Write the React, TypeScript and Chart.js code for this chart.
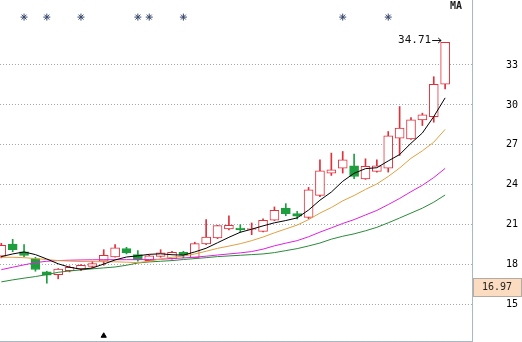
import { useEffect, useRef } from "react";
import { Chart, registerables } from "chart.js";

Chart.register(...registerables);

const days = [0, 1, 2, 3, 4, 5, 6, 7, 8, 9, 10, 11, 12, 13, 14, 15, 16, 17, 18, 19, 20, 21, 22, 23, 24, 25, 26, 27, 28, 29, 30, 31, 32, 33, 34, 35, 36, 37, 38, 39];

const opens = [18.63, 19.55, 18.95, 18.45, 17.45, 17.25, 17.55, 17.68, 17.87, 18.25, 18.58, 19.2, 18.75, 18.3, 18.62, 18.45, 18.92, 18.5, 19.55, 20.0, 20.68, 20.75, 20.65, 20.5, 21.33, 22.25, 21.83, 21.55, 23.2, 24.87, 25.25, 25.42, 24.43, 25.0, 25.25, 27.5, 27.45, 28.88, 29.12, 31.55];
const closes = [19.45, 19.12, 18.68, 17.63, 17.2, 17.67, 17.8, 17.95, 18.07, 18.7, 19.25, 18.88, 18.375, 18.65, 18.88, 18.92, 18.7, 19.58, 20.07, 20.93, 20.95, 20.63, 20.7, 21.33, 22.07, 21.83, 21.63, 23.62, 25.05, 25.12, 25.88, 24.62, 25.38, 25.42, 27.67, 28.25, 28.88, 29.25, 31.55, 34.71];
const highs = [19.6, 19.9, 19.5, 18.55, 17.5, 17.7, 17.9, 18.0, 18.25, 19.12, 19.5, 19.3, 19.05, 18.7, 19.12, 19.0, 19.0, 19.68, 21.38, 20.95, 21.67, 21.0, 21.13, 21.43, 22.33, 22.58, 22.0, 23.8, 25.88, 26.38, 26.5, 26.3, 25.95, 25.88, 28.0, 29.88, 29.05, 29.38, 32.12, 34.71];
const lows = [18.5, 18.97, 18.6, 17.5, 16.6, 16.93, 17.45, 17.55, 17.75, 17.95, 18.55, 18.8, 18.25, 18.25, 18.55, 18.4, 18.5, 18.45, 19.5, 19.95, 20.6, 20.42, 20.25, 20.45, 21.3, 21.67, 21.43, 21.45, 23.1, 24.7, 24.88, 24.45, 24.4, 24.95, 24.95, 26.2, 27.4, 28.45, 28.7, 31.2];

const ma5 = [18.6, 18.8, 18.95, 18.75, 18.42, 18.06, 17.8, 17.65, 17.74, 18.04, 18.35, 18.57, 18.66, 18.77, 18.81, 18.74, 18.71, 18.95, 19.23, 19.64, 20.05, 20.43, 20.66, 20.91, 21.14, 21.31, 21.51, 22.1, 22.84, 23.45, 24.26, 24.86, 25.21, 25.28, 25.79, 26.27, 27.12, 27.89, 29.12, 30.53];
const ma10 = [18.55, 18.55, 18.52, 18.45, 18.38, 18.3, 18.26, 18.23, 18.22, 18.22, 18.21, 18.18, 18.15, 18.25, 18.42, 18.55, 18.64, 18.8, 19.0, 19.22, 19.39, 19.57, 19.8, 20.07, 20.39, 20.68, 20.97, 21.38, 21.87, 22.29, 22.79, 23.19, 23.65, 24.06, 24.62, 25.26, 25.99, 26.55, 27.2, 28.16];
const ma20 = [17.62, 17.8, 17.98, 18.15, 18.25, 18.3, 18.33, 18.35, 18.36, 18.37, 18.37, 18.37, 18.37, 18.38, 18.4, 18.45, 18.5, 18.56, 18.63, 18.72, 18.8, 18.88, 18.98, 19.16, 19.41, 19.61, 19.8, 20.09, 20.44, 20.76, 21.09, 21.38, 21.73, 22.07, 22.51, 22.97, 23.48, 23.96, 24.54, 25.23];
const ma30 = [16.7, 16.85, 16.98, 17.1, 17.25, 17.42, 17.52, 17.6, 17.68, 17.75, 17.82, 17.95, 18.12, 18.2, 18.25, 18.3, 18.38, 18.45, 18.52, 18.6, 18.65, 18.7, 18.75, 18.8, 18.9, 19.05, 19.2, 19.4, 19.62, 19.91, 20.13, 20.31, 20.54, 20.8, 21.14, 21.5, 21.87, 22.24, 22.69, 23.23];

const starDays = [2, 4, 7, 12, 13, 16, 30, 34];
const starLevel = 36.6;
const markDays = [9];
const markLevel = 12.65;
const yTicks = [15, 18, 21, 24, 27, 30, 33];
const priceLabel = 16.97;

const RED = "#E0303C";
const GREEN = "#1E9E3E";

const overlayPlugin = {
  id: "overlay",
  afterDraw(chart: any) {
    const { ctx, chartArea, scales } = chart;
    const xs = scales.x;
    const ys = scales.y;
    ctx.save();
    // MA title
    ctx.font = 'bold 10px "DejaVu Sans Mono"';
    ctx.fillStyle = "#1a1a1a";
    ctx.textAlign = "right";
    ctx.textBaseline = "top";
    ctx.fillText("MA", chartArea.right - 10, 1);

    // highest price label with arrow
    const last = days.length - 1;
    const hx = xs.getPixelForValue(days[last]);
    const hy = Math.round(ys.getPixelForValue(highs[last]) - 2) + 0.5;
    ctx.font = '11px "DejaVu Sans Mono"';
    ctx.fillStyle = "#111";
    ctx.textAlign = "right";
    ctx.textBaseline = "middle";
    ctx.fillText(highs[last].toFixed(2), hx - 14, hy);
    ctx.strokeStyle = "#111";
    ctx.lineWidth = 1;
    ctx.beginPath();
    ctx.moveTo(hx - 13, hy);
    ctx.lineTo(hx - 4, hy);
    ctx.moveTo(hx - 7, hy - 2.5);
    ctx.lineTo(hx - 4, hy);
    ctx.lineTo(hx - 7, hy + 2.5);
    ctx.stroke();

    // price box on the axis
    const by = Math.round(ys.getPixelForValue(priceLabel));
    const bx = chartArea.right + 1;
    const bw = chart.width - bx - 1;
    ctx.fillStyle = "#FBDCC0";
    ctx.fillRect(bx, by, bw, 18);
    ctx.strokeStyle = "#B4ACA4";
    ctx.strokeRect(bx + 0.5, by + 0.5, bw, 18);
    ctx.font = '10px "DejaVu Sans Mono"';
    ctx.fillStyle = "#222";
    ctx.textAlign = "center";
    ctx.textBaseline = "middle";
    ctx.fillText(priceLabel.toFixed(2), bx + bw / 2, by + 9.5);
    ctx.restore();
  },
};

export default function App() {
  const ref = useRef<HTMLCanvasElement | null>(null);

  useEffect(() => {
    if (!ref.current) return;
    const up = days.map((d) => closes[d] >= opens[d]);
    const line = (data: number[], color: string, order: number) => ({
      type: "line" as const,
      data: days.map((d) => ({ x: d, y: data[d] })),
      borderColor: color,
      borderWidth: 1,
      pointRadius: 0,
      tension: 0,
      fill: false,
      order,
    });
    const chart = new Chart(ref.current, {
      type: "bar",
      data: {
        datasets: [
          {
            type: "scatter" as const,
            data: starDays.map((d) => ({ x: d, y: starLevel })),
            pointStyle: "star",
            pointRadius: 3.5,
            borderColor: "#34466A",
            backgroundColor: "#34466A",
            borderWidth: 1,
            order: 0,
          } as any,
          {
            type: "scatter" as const,
            data: markDays.map((d) => ({ x: d, y: markLevel })),
            pointStyle: "triangle",
            pointRadius: 3,
            borderColor: "#000",
            backgroundColor: "#000",
            borderWidth: 1,
            order: 0,
          } as any,
          line(ma5, "#000000", 1),
          line(ma10, "#E0A040", 1),
          line(ma20, "#E020E0", 1),
          line(ma30, "#2A8A3A", 1),
          {
            type: "bar" as const,
            data: days.map((d) => ({ x: d, y: [opens[d], closes[d]] })),
            backgroundColor: days.map((d) => (up[d] ? "#FFFFFF" : GREEN)),
            borderColor: days.map((d) => (up[d] ? RED : GREEN)),
            borderWidth: 1,
            borderSkipped: false,
            barThickness: 9,
            grouped: false,
            order: 2,
          } as any,
          {
            type: "bar" as const,
            data: days.map((d) => ({ x: d, y: [lows[d], highs[d]] })),
            backgroundColor: days.map((d) => (up[d] ? RED : GREEN)),
            borderWidth: 0,
            barThickness: 1,
            grouped: false,
            order: 3,
          } as any,
        ],
      },
      options: {
        responsive: false,
        animation: false,
        layout: { autoPadding: false, padding: { top: 0, left: 0, right: 0, bottom: 1 } },
        plugins: { legend: { display: false }, tooltip: { enabled: false } },
        scales: {
          x: {
            type: "linear",
            offset: false,
            min: -0.114,
            max: 41.36,
            grid: { display: false, offset: false },
            ticks: { display: false },
            border: { display: true, color: "#A8B8C8", width: 1 },
            afterFit: (s: any) => {
              s.paddingLeft = 0;
              s.paddingRight = 0;
              s.height = 0;
            },
          },
          y: {
            position: "right",
            min: 12.257,
            max: 37.885,
            afterFit: (s: any) => {
              s.width = 50;
              s.paddingTop = 0;
              s.paddingBottom = 0;
            },
            afterBuildTicks: (s: any) => {
              s.ticks = yTicks.map((v) => ({ value: v }));
            },
            grid: { color: "#A0A8B0", drawTicks: false, lineWidth: 1 },
            border: { display: true, color: "#A8B8C8", width: 1, dash: [1, 2] },
            ticks: {
              crossAlign: "near",
              padding: 34,
              color: "#000",
              font: { family: "DejaVu Sans Mono", size: 10 },
              callback: (v: any) => String(v),
            },
          },
        },
      } as any,
      plugins: [overlayPlugin],
    });
    return () => chart.destroy();
  }, []);

  return (
    <div style={{ position: "fixed", left: 0, top: 0, width: 522, height: 342, background: "#fff" }}>
      <canvas ref={ref} width={522} height={342} />
    </div>
  );
}
